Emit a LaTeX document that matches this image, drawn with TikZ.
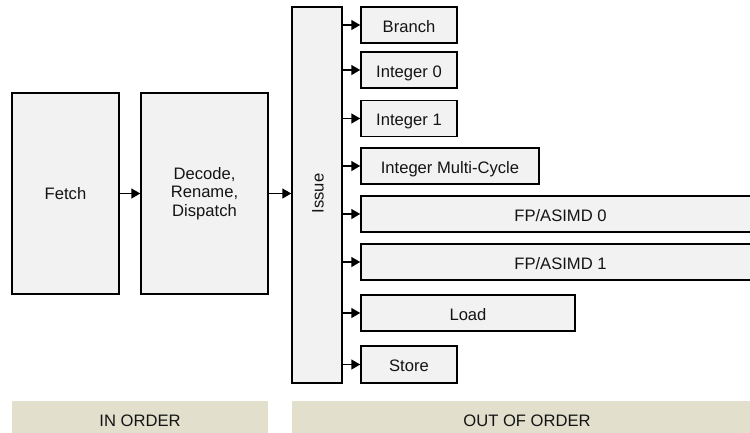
\documentclass[tikz,border=0pt]{standalone}
\usepackage{fontspec}
\setmainfont{Liberation Sans}
\usetikzlibrary{arrows.meta}
\definecolor{boxfill}{HTML}{F2F2F2}
\definecolor{bandfill}{HTML}{E2DFCD}
\definecolor{txt}{HTML}{141414}
\begin{document}
\begin{tikzpicture}[x=1pt,y=-1pt,
  box/.style={draw=black, fill=boxfill, line width=1.5pt, rectangle, inner sep=0pt,
    text=txt, font=\fontsize{16.6}{18.3}\selectfont, align=center},
  onel/.style={text height=14.5pt, text depth=0pt},
  band/.style={fill=bandfill, rectangle, inner sep=0pt, text=txt,
    font=\fontsize{16.6}{18.3}\selectfont, text height=12pt, text depth=1pt},
  arr/.style={line width=1.5pt, -{Triangle[length=9pt,width=10pt]}}]
\path[use as bounding box] (0,0) rectangle (750,432);
\clip (0,0) rectangle (750,432);
% in-order stages
\node[box, minimum width=107pt, minimum height=201pt] (fetch) at (65.5,193.5) {Fetch};
\node[box, minimum width=127pt, minimum height=201pt] (decode) at (204.5,193.5) {Decode,\\Rename,\\Dispatch};
\node[box, minimum width=50pt, minimum height=376pt] (issue) at (317,195) {};
\node[rotate=90, text=txt, font=\fontsize{16.6}{18.3}\selectfont] (issuelbl) at (318,193.5) {Issue};
% execution units
\node[box, onel, minimum width=96pt, minimum height=36pt] (branch) at (409,25) {Branch};
\node[box, onel, minimum width=96pt, minimum height=36pt] (int0) at (409,70) {Integer 0};
\node[box, onel, minimum width=96pt, minimum height=36pt] (int1) at (409,118.5) {Integer 1};
\node[box, onel, minimum width=178pt, minimum height=36pt] (imc) at (450,166) {Integer Multi-Cycle};
\node[box, onel, minimum width=399pt, minimum height=36pt] (fp0) at (560.5,214) {FP/ASIMD 0};
\node[box, onel, minimum width=399pt, minimum height=36pt] (fp1) at (560.5,262) {FP/ASIMD 1};
\node[box, onel, minimum width=214pt, minimum height=36pt] (load) at (468,313) {Load};
\node[box, onel, minimum width=96pt, minimum height=37pt] (store) at (409,364.5) {Store};
% bands
\node[band, minimum width=256pt, minimum height=40pt] (inorder) at (140,421) {IN ORDER};
\node[band, minimum width=470pt, minimum height=40pt] (outorder) at (527,421) {OUT OF ORDER};
% connectors
\draw[arr] (fetch.east) -- (decode.west |- fetch.east);
\draw[arr] (decode.east |- fetch.east) -- (fetch.east -| issue.west);
\foreach \n in {branch,int0,int1,imc,fp0,fp1,load,store}
  \draw[arr] (issue.east |- \n.west) -- (\n.west);
\end{tikzpicture}
\end{document}
